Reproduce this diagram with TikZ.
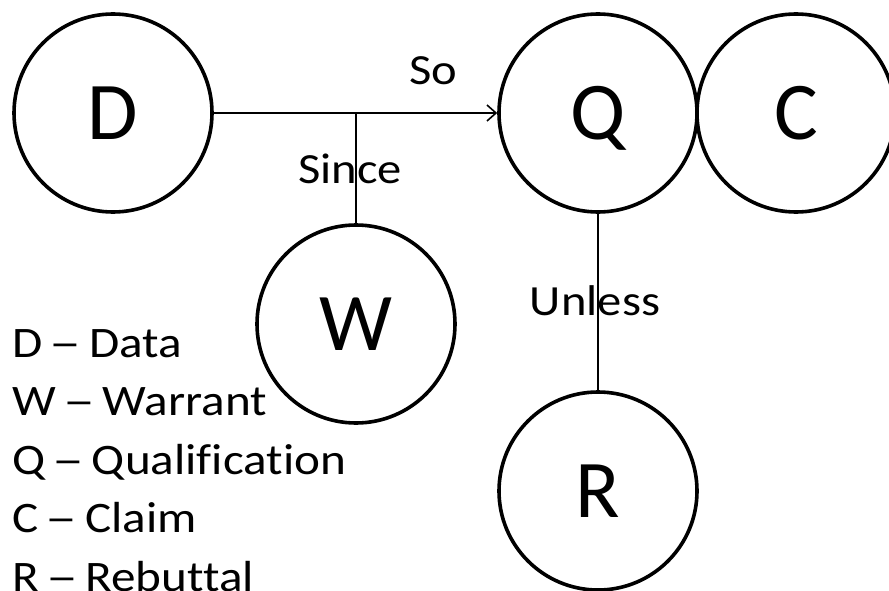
\documentclass[tikz,border=0pt]{standalone}
\usepackage{fontspec}
\usepackage{graphicx}
\setmainfont{Carlito}
\newfontfamily\widefont[FakeStretch=1.13,Ligatures=NoCommon]{Carlito}
\usetikzlibrary{arrows.meta}
% a longer dash that keeps the advance width of an en dash
\newsavebox\keydashbox
\newcommand\keydash{\sbox\keydashbox{–}\makebox[\wd\keydashbox]{\scalebox{1.3}[1]{–}}}
\begin{document}
\begin{tikzpicture}[x=1pt,y=-1pt,
  bubble/.style={circle,draw,line width=3.6pt,minimum size=198pt,inner sep=0pt,
    font=\fontsize{82}{82}\selectfont,text height=53pt,text depth=0pt},
  link/.style={line width=1.6pt},
  tag/.style={font=\widefont\fontsize{43}{43}\selectfont,anchor=base,inner sep=0pt},
  key/.style={font=\widefont\fontsize{43.5}{43.5}\selectfont,anchor=base west,inner sep=0pt}]
\useasboundingbox (0,0) rectangle (889,591);
% argument elements
\node[bubble] (D) at (113,113) {D};
\node[bubble] (Q) at (598,113) {Q};
\node[bubble] (C) at (796,113) {C};
\node[bubble] (W) at (356,324) {W};
\node[bubble] (R) at (598,491) {R};
% connectors
\coordinate (J) at (W.north |- D.east);
\draw[link,-{Straight Barb[length=9pt,width=16pt,line width=1.6pt]}] (D.east) -- (Q.west);
\draw[link] (W.north) -- (J);
\draw[link] (Q.south) -- (R.north);
% connector labels
\node[tag] (so) at (433,85) {So};
\node[tag] (since) at (350,183) {Since};
\node[tag] (unless) at (595,315) {Unless};
% legend
\node[key] (k1) at (12,357) {D \keydash{} Data};
\node[key] (k2) at (12,415.5) {W \keydash{} Warrant};
\node[key] (k3) at (12,474) {Q \keydash{} Qualification};
\node[key] (k4) at (12,532.5) {C \keydash{} Claim};
\node[key] (k5) at (12,591) {R \keydash{} Rebuttal};
\end{tikzpicture}
\end{document}
